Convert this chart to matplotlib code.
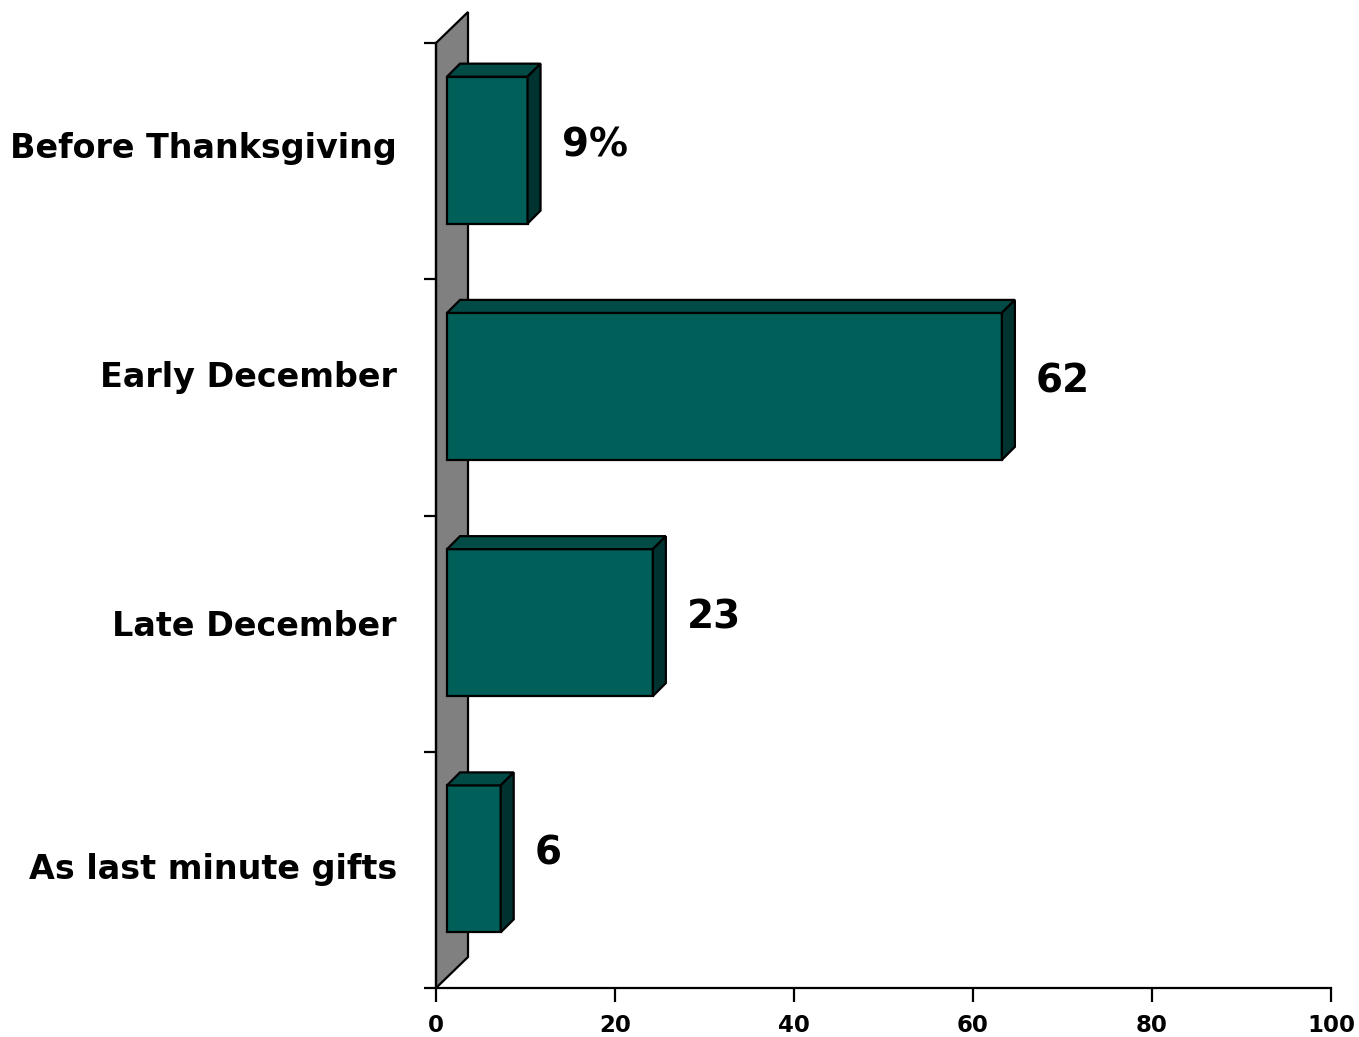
import matplotlib
matplotlib.use('Agg')
import matplotlib.pyplot as plt
from matplotlib.patches import Polygon

categories = ['Before Thanksgiving', 'Early December', 'Late December', 'As last minute gifts']
values = [9, 62, 23, 6]
value_labels = ['9%', '62', '23', '6']
xticks = [0, 20, 40, 60, 80, 100]

W, H = 1359, 1037
fig = plt.figure(figsize=(W / 100, H / 100), dpi=100)
ax = fig.add_axes([436 / W, 49 / H, 895 / W, 945 / H])
ax.set_xlim(0, 100)
ax.set_ylim(-0.5, len(categories) - 0.5)

# pixel -> data unit helpers (for the fake 3D depth)
px_x = 100 / 895
px_y = len(categories) / 945

front = 11   # bar front face shift in px
back = 24    # bar back face shift in px
wall = 32    # wall depth in px
h = 0.622

front_c = '#005f58'
top_c = '#004b46'
side_c = '#00332f'

ypos = [len(categories) - 1 - i for i in range(len(categories))]

# back wall
ylo, yhi = -0.5, len(categories) - 0.5
wall_pts = [(0, ylo), (0, yhi), (wall * px_x, yhi + 31 * px_y), (wall * px_x, ylo + 31 * px_y)]
ax.add_patch(Polygon(wall_pts, closed=True, facecolor='#808080', edgecolor='black',
                     linewidth=1.6, clip_on=False, zorder=1))

fx, fy = front * px_x, front * px_y
bx, by = back * px_x, back * px_y
for y, v, lab in zip(ypos, values, value_labels):
    ax.barh(y + fy, v, left=fx, height=h, color=front_c, edgecolor='black',
            linewidth=1.6, zorder=3)
    top = y + h / 2
    bot = y - h / 2
    ax.add_patch(Polygon([(fx, top + fy), (v + fx, top + fy), (v + bx, top + by), (bx, top + by)],
                         closed=True, facecolor=top_c, edgecolor='black', linewidth=1.6,
                         zorder=3, clip_on=False))
    ax.add_patch(Polygon([(v + fx, bot + fy), (v + bx, bot + by), (v + bx, top + by), (v + fx, top + fy)],
                         closed=True, facecolor=side_c, edgecolor='black', linewidth=1.6,
                         zorder=3, clip_on=False))
    ax.text(v + bx + 21 * px_x, y + 16 * px_y, lab, fontsize=28, fontweight='bold',
            ha='left', va='center', zorder=4)

# axes styling
for s in ['top', 'right']:
    ax.spines[s].set_visible(False)
ax.spines['left'].set_linewidth(1.6)
ax.spines['bottom'].set_linewidth(1.6)
ax.spines['left'].set_zorder(2)

ax.set_xticks(xticks)
ax.set_xticklabels([str(t) for t in xticks], fontsize=16.5, fontweight='bold')
ax.tick_params(axis='x', direction='out', length=10, width=1.6, pad=9)

# category boundaries as ticks, labels placed as text
ax.set_yticks([i - 0.5 for i in range(len(categories) + 1)])
ax.set_yticklabels([])
ax.tick_params(axis='y', direction='out', length=9, width=1.6)

nudge = [13, 20, 7, 0]
for y, cat, n in zip(ypos, categories, nudge):
    ax.text(-39 * px_x, y + n * px_y, cat, fontsize=24, fontweight='bold',
            ha='right', va='center')

fig.savefig('out.png', dpi=100)
